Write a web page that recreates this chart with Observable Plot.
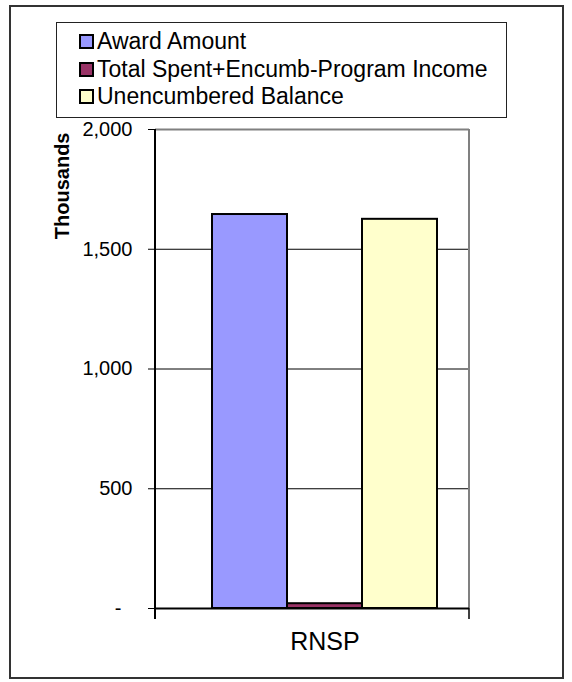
<!DOCTYPE html>
<html><head><meta charset="utf-8">
<script src="https://cdn.jsdelivr.net/npm/d3@7"></script>
<script src="https://cdn.jsdelivr.net/npm/@observablehq/plot@0.6"></script>
<style>
html,body{margin:0;padding:0;background:#fff;}
body{font-family:"Liberation Sans",Arial,sans-serif;color:#000;}
#frame{position:absolute;left:9px;top:5px;width:555px;height:674px;border:2px solid #333;box-sizing:border-box;overflow:visible;}
#legend{margin-left:45px;margin-top:15px;width:451px;height:96px;border:1.5px solid #222;box-sizing:border-box;padding:5px 0 0 22px;}
.row{display:flex;align-items:center;height:27.5px;font-size:23px;line-height:27.5px;white-space:nowrap;}
.sw{width:15px;height:15px;border:2px solid #000;box-sizing:border-box;margin-right:3px;flex:none;}
#chart{margin-left:-11px;width:572px;}
#chart svg{display:block;overflow:visible;max-width:none !important;width:572px !important;}
</style></head>
<body>
<div id="frame"><div id="legend"></div><div id="chart"></div></div>
<script>
const categories = ["RNSP"];
const seriesNames = ["Award Amount", "Total Spent+Encumb-Program Income", "Unencumbered Balance"];
const seriesValues = [1645, 20, 1625];
const seriesColors = ["#9999FF", "#993366", "#FFFFCC"];
const yTicks = [0, 500, 1000, 1500, 2000];
const yTickLabels = ["-\u00a0\u00a0", "500", "1,000", "1,500", "2,000"];
const gridValues = [500, 1000, 1500];
const yLabel = "Thousands";

const data = seriesNames.map((s, i) => ({category: categories[0], series: s, value: seriesValues[i]}));

// legend
const legend = d3.select("#legend");
seriesNames.forEach((s, i) => {
  const r = legend.append("div").attr("class", "row");
  r.append("div").attr("class", "sw").style("background", seriesColors[i]);
  r.append("span").text(s);
});

const frameLines = (index, scales, values, dims) => {
  const {width, height, marginLeft, marginRight, marginTop, marginBottom} = dims;
  const x0 = marginLeft, x1 = width - marginRight, y0 = marginTop, y1 = height - marginBottom;
  const g = d3.create("svg:g");
  g.append("line").attr("x1", x1).attr("x2", x1).attr("y1", y0).attr("y2", y1).attr("stroke", "#808080").attr("stroke-width", 2);
  g.append("line").attr("x1", x1).attr("x2", x1).attr("y1", y1).attr("y2", y1 + 11).attr("stroke", "#000").attr("stroke-width", 1.5);
  g.append("line").attr("x1", x0).attr("x2", x0).attr("y1", y0).attr("y2", y1 + 11).attr("stroke", "#000").attr("stroke-width", 2);
  return g.node();
};

const chart = Plot.plot({
  width: 572,
  height: 556,
  marginLeft: 155,
  marginRight: 103,
  marginTop: 11,
  marginBottom: 66,
  style: {fontFamily: "'Liberation Sans', Arial, sans-serif", fontSize: "20px", color: "#000", background: "transparent", overflow: "visible", maxWidth: "none"},
  x: {domain: seriesNames, paddingInner: 0, paddingOuter: 0.575, align: 0.644, axis: null},
  y: {domain: [0, 2000]},
  color: {domain: seriesNames, range: seriesColors},
  marks: [
    Plot.ruleY(gridValues, {stroke: "#000", strokeWidth: 1}),
    Plot.ruleY([2000], {stroke: "#808080", strokeWidth: 2}),
    Plot.axisY(yTicks, {tickFormat: d => yTickLabels[yTicks.indexOf(d)], tickSize: 7, tickPadding: 16, label: null, fontSize: 20, stroke: "#000"}),
    frameLines,
    Plot.barY(data, {x: "series", y: "value", fill: "series", stroke: "#000", strokeWidth: 2}),
    Plot.ruleY([0], {stroke: "#000", strokeWidth: 2}),
    Plot.text([yLabel], {frameAnchor: "top-left", rotate: -90, textAnchor: "end", dx: -101, dy: 3, fontWeight: "bold", fontSize: 20}),
    Plot.text(categories, {x: () => seriesNames[1], frameAnchor: "bottom", dy: 41, fontSize: 25})
  ]
});
document.getElementById("chart").append(chart);
</script>
</body></html>
